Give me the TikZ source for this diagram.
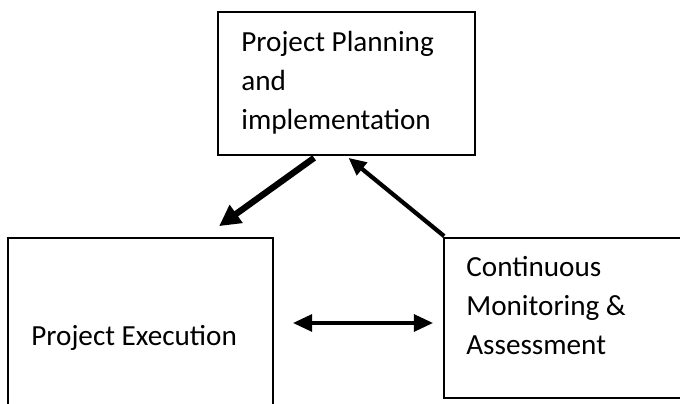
\documentclass[tikz,border=0pt]{standalone}
\usepackage{fontspec}
\setmainfont{Carlito}
\usetikzlibrary{arrows.meta}
\newcommand{\boxfont}{\fontsize{16.6}{22.4}\selectfont}

\tikzset{
  blk/.style={draw=black,line width=1pt,inner sep=0pt},
  txt/.style={font=\boxfont,align=left,inner sep=0pt,anchor=base west},
  fat/.style={line width=3.6pt,-{Triangle[length=12pt,width=12pt]}},
  mid/.style={line width=2.4pt,-{Triangle[length=10pt,width=9pt]}},
  both/.style={line width=2.3pt,{Triangle[length=11pt,width=9.5pt]}-{Triangle[length=11pt,width=9.5pt]}}
}

\begin{document}
\begin{tikzpicture}[x=0.02cm,y=-0.02cm]
      \useasboundingbox (0,0) rectangle (680,404);
      % the three boxes (two run off the page)
      \node[blk,minimum width=5.14cm,minimum height=2.86cm] (plan) at (346.5,83.5) {};
      \node[blk,minimum width=5.3cm,minimum height=3.64cm] (exec) at (140.5,329) {};
      \node[blk,minimum width=4.92cm,minimum height=3.2cm] (monit) at (567,318) {};
      % base anchor sits on the last line
      \node[txt] (plantxt) at (241,130) {Project Planning\\and\\implementation};
      \node[txt] (exectxt) at (31,346) {Project Execution};
      \node[txt] (monittxt) at (466,355) {Continuous\\Monitoring \&\\Assessment};
      % arrows between them
      \draw[fat] ([xshift=1.94cm,yshift=-0.04cm]plan.south west) -- ([xshift=4.24cm,yshift=0.22cm]exec.north west);
      \draw[mid] ([xshift=0.02cm,yshift=0.02cm]monit.north west) -- ([xshift=0.04cm,yshift=-0.04cm]plan.south);
      \draw[both] ([xshift=0.38cm,yshift=-0.1cm]exec.east |- monit.west) -- ([xshift=-0.2cm,yshift=-0.1cm]monit.west);
     \end{tikzpicture}
\end{document}
